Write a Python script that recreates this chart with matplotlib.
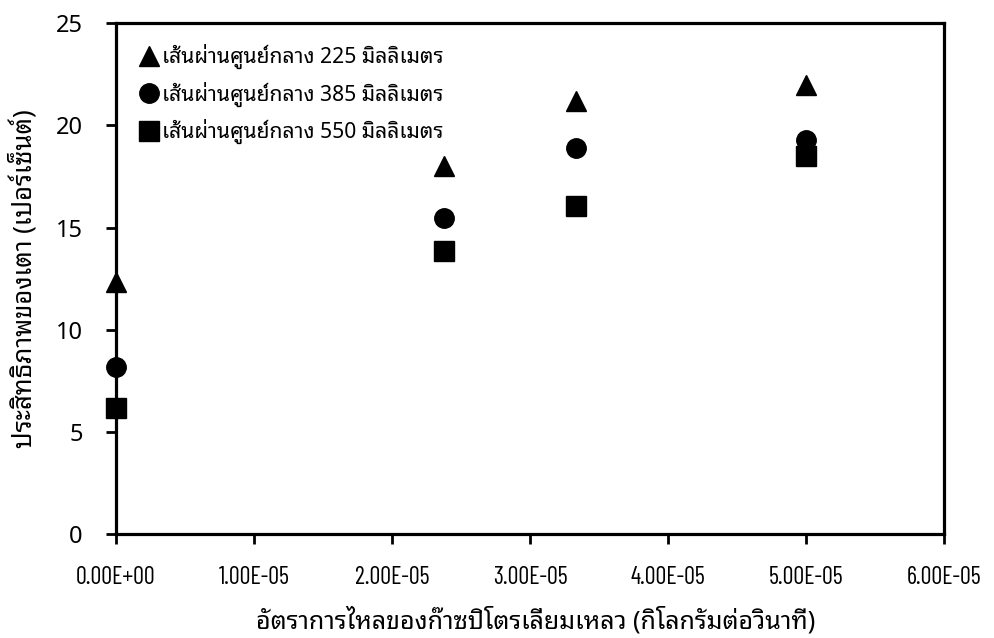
import matplotlib
matplotlib.use("Agg")
import matplotlib.pyplot as plt
from matplotlib import font_manager
from matplotlib.ticker import FuncFormatter, MultipleLocator

# LPG flow rate (kg/s) and stove efficiency (%) for three burner diameters
flow_rate = [0.0, 2.38e-5, 3.33e-5, 5.00e-5]
eff_225 = [12.35, 18.03, 21.22, 21.97]
eff_385 = [8.17, 15.46, 18.91, 19.28]
eff_550 = [6.16, 13.86, 16.06, 18.49]

series_labels = [
    "เส้นผ่านศูนย์กลาง 225 มิลลิเมตร",
    "เส้นผ่านศูนย์กลาง 385 มิลลิเมตร",
    "เส้นผ่านศูนย์กลาง 550 มิลลิเมตร",
]
x_label = "อัตราการไหลของก๊าซปิโตรเลี่ยมเหลว (กิโลกรัมต่อวินาที)"
y_label = "ประสิทธิภาพของเตา (เปอร์เซ็นต์)"

installed = {f.name for f in font_manager.fontManager.ttflist}


def pick(cands):
    return [c for c in cands if c in installed] + ["DejaVu Sans"]


thai_font = pick(["Noto Sans Thai Looped", "IBM Plex Sans Thai Looped", "Noto Sans Thai"])
narrow_font = pick(["Barlow Condensed", "Pathway Gothic One", "Liberation Sans Narrow"])

plt.rcParams["font.family"] = thai_font

fig = plt.figure(figsize=(9.95, 6.38), dpi=100)
ax = fig.add_axes([0.1166, 0.163, 0.8321, 0.8005])

ms = 14
ax.plot(flow_rate, eff_225, linestyle="none", marker="^", ms=ms, color="black",
        label=series_labels[0], clip_on=False, zorder=5)
ax.plot(flow_rate, eff_385, linestyle="none", marker="o", ms=ms, color="black",
        label=series_labels[1], clip_on=False, zorder=5)
ax.plot(flow_rate, eff_550, linestyle="none", marker="s", ms=ms, color="black",
        label=series_labels[2], clip_on=False, zorder=5)

ax.set_xlim(0, 6e-5)
ax.set_ylim(0, 25)
ax.xaxis.set_major_locator(MultipleLocator(1e-5))
ax.yaxis.set_major_locator(MultipleLocator(5))
ax.xaxis.set_major_formatter(FuncFormatter(lambda v, p: f"{v:.2E}"))

for s in ax.spines.values():
    s.set_linewidth(2.3)
    s.set_color("black")

ax.tick_params(axis="both", direction="out", length=7, width=2, color="black")
ax.tick_params(axis="y", pad=17, labelsize=17)
ax.tick_params(axis="x", pad=16, labelsize=17.5)
for t in ax.get_xticklabels():
    t.set_family(narrow_font)

ax.set_xlabel(x_label, fontsize=18, family=thai_font)
ax.set_ylabel(y_label, fontsize=18.5, family=thai_font)
ax.xaxis.set_label_coords(0.507, -0.143)
ax.yaxis.set_label_coords(-0.095, 0.5)

leg = ax.legend(loc="upper left", bbox_to_anchor=(0.0, 0.99), frameon=False,
                fontsize=15.2, handletextpad=-0.15, labelspacing=0.58,
                borderaxespad=0.35, handlelength=1.6, markerscale=1.0)

fig.savefig("out.png", dpi=100)
